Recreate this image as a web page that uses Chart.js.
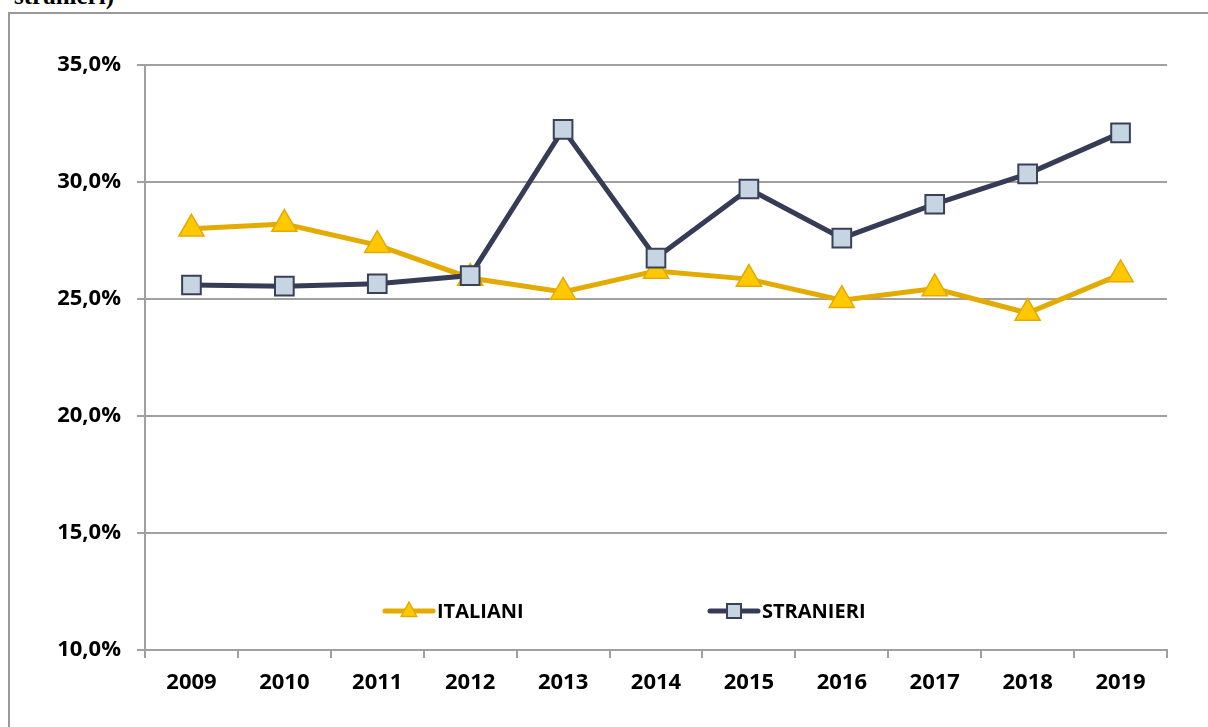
<!DOCTYPE html>
<html>
<head>
<meta charset="utf-8">
<script src="https://cdn.jsdelivr.net/npm/chart.js@4.4.1/dist/chart.umd.min.js"></script>
<style>
  html, body { margin: 0; padding: 0; background: #fff; overflow: hidden; }
  #titolo { position: absolute; left: 14px; top: -14px; font: bold 25px "Liberation Serif", serif; line-height: 20px; color: #000; white-space: nowrap; }
  #cornice { position: absolute; left: 8px; top: 12px; width: 1400px; height: 900px; border: 2px solid #999; box-sizing: border-box; background: #fff; }
  #wrap { position: absolute; left: 0; top: 0; width: 1208px; height: 727px; }
</style>
</head>
<body>
<div id="titolo">stranieri)</div>
<div id="cornice"></div>
<div id="wrap"><canvas id="grafico"></canvas></div>
<script>
// dati
const anni = ['2009', '2010', '2011', '2012', '2013', '2014', '2015', '2016', '2017', '2018', '2019'];
const italiani = [28.0, 28.2, 27.3, 25.9, 25.3, 26.2, 25.85, 24.95, 25.45, 24.4, 26.05];
const stranieri = [25.6, 25.55, 25.65, 26.0, 32.25, 26.75, 29.7, 27.6, 29.05, 30.35, 32.1];
const nomiSerie = ['ITALIANI', 'STRANIERI'];
const yMin = 10, yMax = 35, yPasso = 5;

const FONT = '"Open Sans"';

// legenda dentro l'area del grafico, come in Excel
const legendaInterna = {
    id: 'legendaInterna',
    afterDraw(chart) {
        const ctx = chart.ctx;
        const a = chart.chartArea;
        const y = a.top + 546;
        const xs = [a.left + 240, a.left + 565];
        chart.data.datasets.forEach((ds, i) => {
            const x0 = xs[i];
            ctx.save();
            ctx.strokeStyle = ds.borderColor;
            ctx.lineWidth = 5;
            ctx.lineCap = 'round';
            ctx.beginPath(); ctx.moveTo(x0, y); ctx.lineTo(x0 + 48, y); ctx.stroke();
            ctx.fillStyle = ds.pointBackgroundColor;
            ctx.strokeStyle = ds.pointBorderColor;
            ctx.lineWidth = ds.pointBorderWidth;
            ctx.beginPath();
            if (ds.pointStyle === 'triangle') {
                const r = 9;
                ctx.moveTo(x0 + 24, y - r);
                ctx.lineTo(x0 + 24 + r * 0.866, y + r * 0.6);
                ctx.lineTo(x0 + 24 - r * 0.866, y + r * 0.6);
                ctx.closePath();
            } else {
                ctx.rect(x0 + 24 - 7, y - 7, 14, 14);
            }
            ctx.fill(); ctx.stroke();
            ctx.fillStyle = '#000';
            ctx.font = 'bold 20px ' + FONT;
            ctx.textBaseline = 'middle';
            ctx.fillText(ds.label, x0 + 52, y + 1);
            ctx.restore();
        });
    }
};

new Chart(document.getElementById('grafico'), {
    type: 'line',
    data: {
        labels: anni,
        datasets: [
            {
                label: nomiSerie[0], data: italiani, order: 1,
                borderColor: '#E3AA00', borderWidth: 5,
                pointStyle: 'triangle', pointRadius: 14.5, pointHoverRadius: 14.5,
                pointBackgroundColor: '#FFC800', pointBorderColor: '#E3AA00', pointBorderWidth: 1.5,
                tension: 0
            },
            {
                label: nomiSerie[1], data: stranieri, order: 0,
                borderColor: '#363C56', borderWidth: 5,
                pointStyle: 'rect', pointRadius: 13.2, pointHoverRadius: 13.2,
                pointBackgroundColor: '#C5D5E2', pointBorderColor: '#3A4058', pointBorderWidth: 2,
                tension: 0
            }
        ]
    },
    options: {
        responsive: true,
        maintainAspectRatio: false,
        animation: false,
        events: [],
        layout: { padding: { left: 0, top: 65, right: 41, bottom: 0 } },
        plugins: { legend: { display: false }, tooltip: { enabled: false } },
        scales: {
            x: {
                offset: true,
                grid: { offset: true, drawOnChartArea: false, drawTicks: true, tickLength: 8, color: '#A0A0A0', lineWidth: 2 },
                border: { color: '#A0A0A0', width: 2 },
                ticks: { color: '#000', font: { family: FONT, weight: 'bold', size: 22 }, padding: 12, maxRotation: 0 },
                afterFit: s => { s.height = 77; }
            },
            y: {
                min: yMin, max: yMax,
                grid: { color: '#A0A0A0', lineWidth: 2, tickLength: 8 },
                border: { color: '#A0A0A0', width: 2 },
                ticks: {
                    stepSize: yPasso, color: '#000', padding: 16,
                    font: { family: FONT, weight: 'bold', size: 22 },
                    callback: v => v.toFixed(1).replace('.', ',') + '%'
                },
                afterFit: s => { s.width = 145; }
            }
        }
    },
    plugins: [legendaInterna]
});
</script>
</body>
</html>
